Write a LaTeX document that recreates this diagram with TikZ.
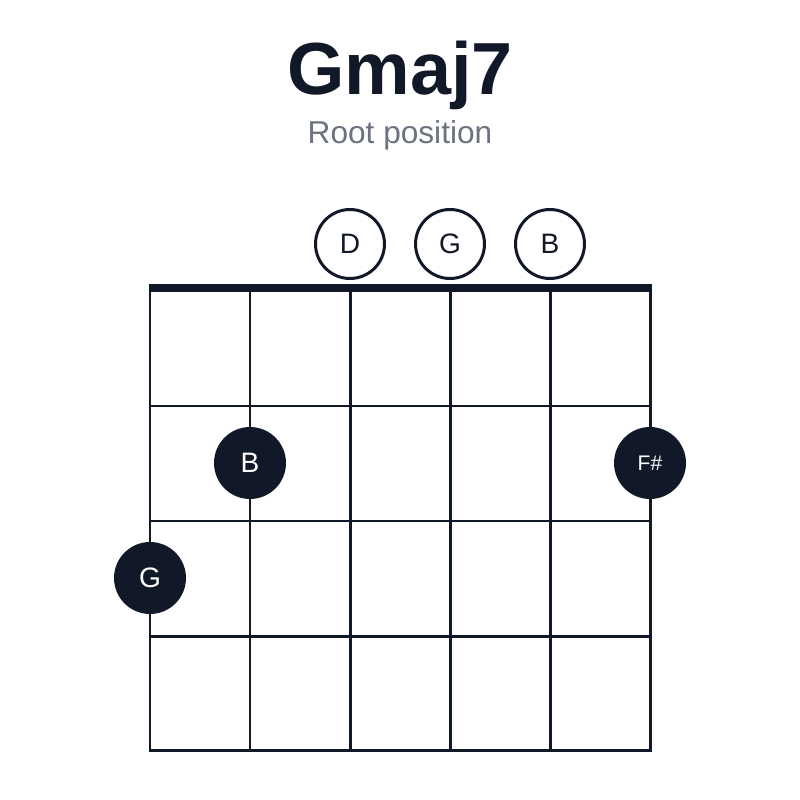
\documentclass[tikz,border=0pt]{standalone}
\usepackage{fontspec}
\setmainfont{Liberation Sans}
\definecolor{ink}{HTML}{111827}
\definecolor{sub}{HTML}{6B7280}
\begin{document}
\begin{tikzpicture}[x=0.02cm,y=-0.02cm,
  grid/.style={draw=ink,line width=1.7pt},
  open/.style={circle,draw=ink,fill=white,line width=1.7pt,minimum size=1.38cm,inner sep=0pt,text=ink,font=\fontsize{16}{16}\selectfont},
  dot/.style={circle,fill=ink,minimum size=1.44cm,inner sep=0pt,text=white,font=\fontsize{16}{16}\selectfont},
  ]
\useasboundingbox (0,0) rectangle (800,800);
\node[text=ink,font=\bfseries\fontsize{42}{42}\selectfont] (title) at (400,75) {Gmaj7};
\node[text=sub,font=\fontsize{18}{18}\selectfont] (subtitle) at (400,135) {Root position};
\foreach \x in {150,250,...,650} \draw[grid] (\x,288) -- (\x,750);
\foreach \y in {406,521,636,750} \draw[grid] (148.5,\y) -- (651.5,\y);
\draw[draw=ink,line width=5pt] (148.5,288) -- (651.5,288);
\node[open] (o4) at (350,244) {D};
\node[open] (o3) at (450,244) {G};
\node[open] (o2) at (550,244) {B};
\node[dot] (d5) at (250,463) {B};
\node[dot,font=\fontsize{12}{12}\selectfont] (d1) at (650,463) {F\#};
\node[dot] (d6) at (150,578) {G};
\end{tikzpicture}
\end{document}
